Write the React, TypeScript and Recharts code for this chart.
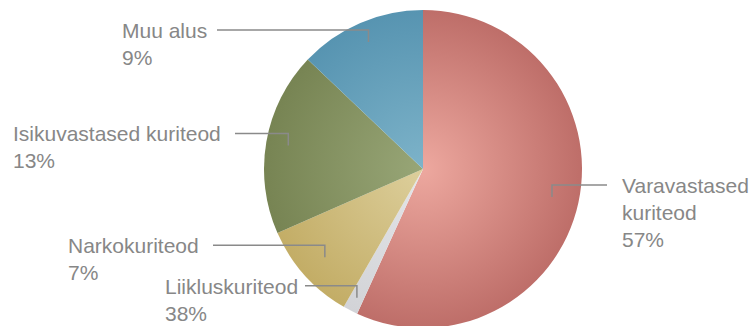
import React from "react"
import { PieChart, Pie, Cell } from "recharts"

// slices clockwise from 12 o'clock
const categories = ["Varavastased kuriteod", "Liikluskuriteod", "Narkokuriteod", "Isikuvastased kuriteod", "Muu alus"]
const shares = [56.8, 1.5, 10.1, 18.7, 12.9]
const labelPercents = ["57%", "38%", "7%", "13%", "9%"]

const data = categories.map((name, i) => ({ name, value: shares[i], pct: labelPercents[i] }))

// [inner colour, outer colour]
const colors: [string, string][] = [
  ["#eda89f", "#be6e69"],
  ["#e4e5e8", "#d2d3d7"],
  ["#ddcf9c", "#c3ad66"],
  ["#98a677", "#778453"],
  ["#7db3c9", "#5794b1"],
]

// label geometry: tick radius factor, where the leader line ends, where text starts
const labelLayout = [
  { r: 0.83, lineEnd: 607, textX: 622, wrap: true },
  { r: 0.91, lineEnd: 305, textX: 165, wrap: false },
  { r: 0.83, lineEnd: 213, textX: 68, wrap: false },
  { r: 0.86, lineEnd: 235, textX: 13, wrap: false },
  { r: 0.87, lineEnd: 217, textX: 122, wrap: false },
]

const W = 753
const H = 326
const CX = 423
const CY = 169
const R = 159
const RAD = Math.PI / 180
const TEXT = "#878787"
const LINE = "#8a8a8a"

function renderLabel(props: any) {
  const { cx, cy, midAngle, outerRadius, index } = props
  const lay = labelLayout[index]
  const d = data[index]
  const ax = cx + outerRadius * lay.r * Math.cos(-midAngle * RAD)
  const ay = cy + outerRadius * lay.r * Math.sin(-midAngle * RAD)
  const lineY = ay - 12
  const lines = lay.wrap ? [...d.name.split(" "), d.pct] : [d.name, d.pct]
  return (
    <g key={`lbl-${index}`}>
      <polyline
        points={`${ax},${ay} ${ax},${lineY} ${lay.lineEnd},${lineY}`}
        fill="none"
        stroke={LINE}
        strokeWidth={1.5}
      />
      <text x={lay.textX} y={lineY + 8} fill={TEXT} fontSize={21} fontFamily="Liberation Sans, Arial, sans-serif">
        {lines.map((t, i) => (
          <tspan key={i} x={lay.textX} dy={i === 0 ? 0 : 27}>
            {t}
          </tspan>
        ))}
      </text>
    </g>
  )
}

export default function App() {
  return (
    <div style={{ position: "absolute", left: 0, top: 0, width: W, height: H, background: "#fff" }}>
      <PieChart width={W} height={H} margin={{ top: 0, right: 0, bottom: 0, left: 0 }}>
        <defs>
          {colors.map(([inner, outer], i) => (
            <radialGradient key={i} id={`slice-${i}`} gradientUnits="userSpaceOnUse" cx={CX} cy={CY} r={R}>
              <stop offset="0%" stopColor={inner} />
              <stop offset="100%" stopColor={outer} />
            </radialGradient>
          ))}
        </defs>
        <Pie
          data={data}
          dataKey="value"
          nameKey="name"
          cx={CX}
          cy={CY}
          outerRadius={R}
          startAngle={90}
          endAngle={-270}
          stroke="none"
          labelLine={false}
          label={renderLabel}
          isAnimationActive={false}
        >
          {data.map((_, i) => (
            <Cell key={i} fill={`url(#slice-${i})`} />
          ))}
        </Pie>
      </PieChart>
    </div>
  )
}
